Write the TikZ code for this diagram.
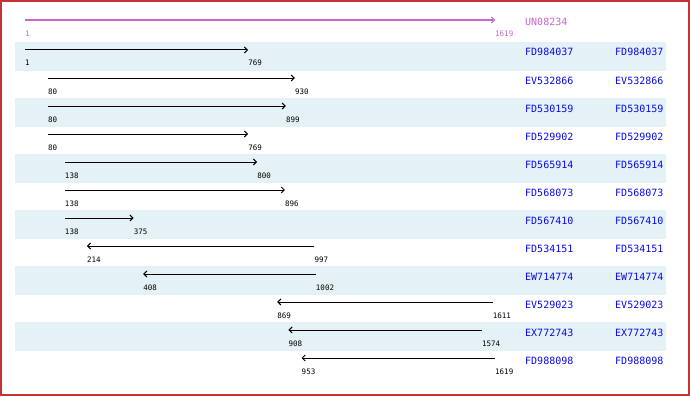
\documentclass[tikz,border=0pt]{standalone}
\usepackage{fontspec}
\setmonofont{DejaVu Sans Mono}
\usetikzlibrary{arrows.meta}
\definecolor{frame}{RGB}{196,52,52}
\definecolor{band}{RGB}{228,241,246}
\definecolor{mag}{RGB}{204,102,204}
\definecolor{acc}{RGB}{10,10,235}
\tikzset{
  num/.style={font=\ttfamily\fontsize{7.5}{8}\selectfont, anchor=base west, inner sep=0pt},
  accname/.style={font=\ttfamily\fontsize{10}{11}\selectfont, anchor=base west, inner sep=0pt, text=acc},
  hit/.style={draw=black, line width=1pt, -{Straight Barb[length=3pt,width=6pt,line width=1pt]}},
  query/.style={draw=mag, line width=2pt, -{Straight Barb[length=3pt,width=6pt,line width=1pt]}},
  bandbox/.style={fill=band, draw=none}
}
\begin{document}
\begin{tikzpicture}[x=1pt,y=-1pt]
\useasboundingbox (0,0) rectangle (690,396);
\fill[white] (0,0) rectangle (690,396);
% bands
\foreach \i in {1,3,5,7,9,11}{
  \pgfmathsetmacro\ya{22+28*\i}
  \fill[band] (15,\ya-8) rectangle (666,\ya+21);
}
% query
\coordinate (qs) at (25,20);
\coordinate (qe) at (495,20);
\draw[query] (qs) -- (qe);
\node[num, text=mag] (qsl) at (25,36.5) {1};
\node[num, text=mag] (qel) at (495,36.5) {1619};
\node[accname, text=mag] (qacc) at (525,26) {UN08234};
% hits
\foreach \i/\acc/\a/\b/\d in {
 1/FD984037/1/769/f,
 2/EV532866/80/930/f,
 3/FD530159/80/899/f,
 4/FD529902/80/769/f,
 5/FD565914/138/800/f,
 6/FD568073/138/896/f,
 7/FD567410/138/375/f,
 8/FD534151/214/997/r,
 9/EW714774/408/1002/r,
 10/EV529023/869/1611/r,
 11/EX772743/908/1574/r,
 12/FD988098/953/1619/r}{
  \pgfmathsetmacro\ya{22+28*\i}
  \pgfmathsetmacro\xa{25+(\a-1)/1618*470}
  \pgfmathsetmacro\xb{25+(\b-1)/1618*470}
  \coordinate (s\i) at (\xa,\ya);
  \coordinate (e\i) at (\xb,\ya);
  \if\d f
    \draw[hit] (s\i) -- (e\i);
  \else
    \draw[hit] (e\i) -- (s\i);
  \fi
  \node[num] (sl\i) at (\xa,\ya+16) {\a};
  \node[num] (el\i) at (\xb,\ya+16) {\b};
  \node[accname] (acc\i) at (525,\ya+6) {\acc};
  \node[accname] (accb\i) at (615,\ya+6) {\acc};
}
\draw[frame, line width=2pt] (1,1) rectangle (689,395);
\end{tikzpicture}
\end{document}
